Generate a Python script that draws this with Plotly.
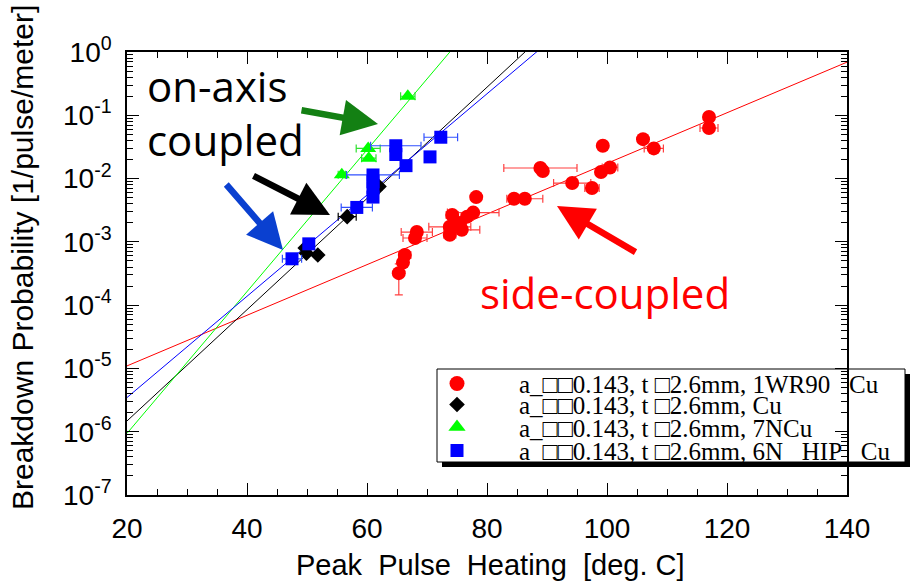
import numpy as np
import plotly.graph_objects as go

# ---------------- data ----------------
# side-coupled, 1WR90 Cu (red circles)
red_x = [117.0, 117.0, 106.0, 107.8, 99.3, 100.5, 99.0, 97.5, 94.2, 88.9, 89.3, 84.5, 86.3,
         78.2, 77.7, 76.7, 74.2, 73.8, 75.5, 75.8, 73.8, 68.3, 68.0, 66.3, 66.0, 65.3]
red_y = [0.094, 0.063, 0.042, 0.030, 0.033, 0.015, 0.0127, 0.0071, 0.0085, 0.0147, 0.0132, 0.0048, 0.0048,
         0.0051, 0.0029, 0.0025, 0.00266, 0.00173, 0.00199, 0.00155, 0.00129, 0.00143, 0.00115, 0.00062, 0.00047, 0.00032]
red_xerr = [0, 1.5, 0.8, 1.6, 0, 1.3, 0, 1.2, 3.1, 6.1, 0, 0, 3.0,
            0.8, 4.3, 1.0, 1.0, 3.5, 1.0, 3.0, 1.0, 2.6, 2.0, 1.0, 0.5, 0.5]
red_yerr_plus = [0] * 25 + [0.00013]
red_yerr_minus = [0] * 25 + [0.000175]

# on-axis, Cu (black diamonds)
black_x = [56.7, 51.8, 49.7, 49.9, 62.0]
black_y = [0.0025, 0.00062, 0.0008, 0.00066, 0.0075]
black_xerr = [1.5, 0.5, 0.5, 0.0, 0.5]

# on-axis, 7NCu (green triangles)
green_x = [66.8, 60.2, 60.3, 55.8]
green_y = [0.2, 0.030, 0.021, 0.0115]
green_xerr = [1.2, 2.0, 1.2, 0.6]

# on-axis, 6N HIP Cu (blue squares)
blue_x = [72.3, 64.8, 64.8, 70.5, 66.5, 61.0, 61.0, 61.0, 61.0, 58.3, 50.3, 47.5]
blue_y = [0.045, 0.033, 0.024, 0.022, 0.016, 0.0114, 0.0089, 0.0071, 0.0051, 0.0035, 0.00093, 0.00054]
blue_xerr = [2.8, 4.2, 0.0, 0.8, 0.0, 4.4, 0.0, 0.0, 0.5, 2.6, 0.0, 1.6]

# exponential fits: log10(P) = intercept + slope * T
fit_intercept = {"red": -5.76, "black": -7.588, "green": -8.266, "blue": -7.06}
fit_slope = {"red": 0.040, "black": 0.0879, "green": 0.112, "blue": 0.080}

NB = "\u00a0"
series_names = [
    "a_\u25a1\u25a10.143, t \u25a12.6mm, 1WR90" + NB * 3 + "Cu",
    "a_\u25a1\u25a10.143, t \u25a12.6mm, Cu",
    "a_\u25a1\u25a10.143, t \u25a12.6mm, 7NCu",
    "a_\u25a1\u25a10.143, t \u25a12.6mm, 6N" + NB * 3 + "HIP" + NB * 3 + "Cu",
]

x_ticks = [20, 40, 60, 80, 100, 120, 140]
y_tick_exps = [-7, -6, -5, -4, -3, -2, -1, 0]

# ---------------- figure ----------------
W, H = 919, 585
L, R, T, B = 127, 72, 52, 90
fig = go.Figure()

colors = {"red": "#ff0000", "black": "#000000", "green": "#00ff00", "blue": "#0000ff"}
err_colors = {"red": "#ff4040", "black": "#000000", "green": "#30e030", "blue": "#3050ff"}

fit_x = [20, 140]
for key in ["red", "black", "green", "blue"]:
    fy = [10 ** (fit_intercept[key] + fit_slope[key] * xx) for xx in fit_x]
    fig.add_trace(go.Scatter(x=fit_x, y=fy, mode="lines",
                             line=dict(color=colors[key], width=1), showlegend=False,
                             hoverinfo="skip"))

def add_points(x, y, xerr, key, symbol, size, yplus=None, yminus=None):
    ey = None
    if yplus is not None:
        ey = dict(type="data", array=yplus, arrayminus=yminus, color=err_colors[key],
                  thickness=1.2, width=4)
    fig.add_trace(go.Scatter(
        x=x, y=y, mode="markers",
        marker=dict(symbol=symbol, size=size, color=colors[key], line=dict(width=0)),
        error_x=dict(type="data", array=xerr, color=err_colors[key], thickness=1.2, width=4),
        error_y=ey, showlegend=False, cliponaxis=False))

add_points(red_x, red_y, red_xerr, "red", "circle", 14, red_yerr_plus, red_yerr_minus)
add_points(black_x, black_y, black_xerr, "black", "diamond", 12)
add_points(green_x, green_y, green_xerr, "green", "triangle-up", 14)
add_points(blue_x, blue_y, blue_xerr, "blue", "square", 13)

# ---- manual legend (paper-fraction overlay axes) ----
def px_to_paper(px, py):
    return (px - L) / (W - L - R), 1 - (py - T) / (H - T - B)

leg_rows_py = [383.5, 404.5, 427, 450.5]
leg_sym_px = 457
leg_txt_px = 517
sym_list = ["circle", "diamond", "triangle-up", "square"]
sym_sizes = [15, 12, 15, 13]
sym_keys = ["red", "black", "green", "blue"]
for i, key in enumerate(sym_keys):
    sx, sy = px_to_paper(leg_sym_px, leg_rows_py[i])
    fig.add_trace(go.Scatter(x=[sx], y=[sy], xaxis="x2", yaxis="y2", mode="markers",
                             marker=dict(symbol=sym_list[i], size=sym_sizes[i], color=colors[key]),
                             showlegend=False, hoverinfo="skip", cliponaxis=False))
    tx, ty = px_to_paper(leg_txt_px, leg_rows_py[i] + 1)
    fig.add_annotation(x=tx, y=ty, xref="paper", yref="paper", text=series_names[i],
                       showarrow=False, xanchor="left", yanchor="middle",
                       font=dict(family="Liberation Serif", size=25, color="black"))

bx0, by0 = px_to_paper(437, 369)
bx1, by1 = px_to_paper(905, 462)
sx0, sy0 = px_to_paper(442, 374)
sx1, sy1 = px_to_paper(910, 467)
fig.add_shape(type="rect", xref="paper", yref="paper", x0=sx0, y0=sy0, x1=sx1, y1=sy1,
              fillcolor="black", line=dict(width=0), layer="below")
fig.add_shape(type="rect", xref="paper", yref="paper", x0=bx0, y0=by0, x1=bx1, y1=by1,
              fillcolor="white", line=dict(color="black", width=1), layer="below")

# ---- text labels ----
ax_, ay_ = px_to_paper(145, 85)
fig.add_annotation(x=ax_, y=ay_, xref="paper", yref="paper", text="on-axis", showarrow=False,
                   xanchor="left", yanchor="middle", font=dict(family="Open Sans", size=42, color="black"))
ax_, ay_ = px_to_paper(145, 140)
fig.add_annotation(x=ax_, y=ay_, xref="paper", yref="paper", text="coupled", showarrow=False,
                   xanchor="left", yanchor="middle", font=dict(family="Open Sans", size=42, color="black"))
ax_, ay_ = px_to_paper(478, 292)
fig.add_annotation(x=ax_, y=ay_, xref="paper", yref="paper", text="side-coupled", showarrow=False,
                   xanchor="left", yanchor="middle", font=dict(family="Open Sans", size=42, color="#ff0000"))

# ---- arrows ----
arrows = [
    ((378, 124), -78, -14, "#138013"),
    ((330, 215), -78, -40, "#000000"),
    ((283, 250), -58, -67, "#0a40d0"),
    ((557, 206), 80, 47, "#ff0000"),
]
for (hx, hy), dx, dy, col in arrows:
    px_, py_ = px_to_paper(hx, hy)
    fig.add_annotation(x=px_, y=py_, xref="paper", yref="paper", text="", showarrow=True,
                       ax=dx, ay=dy, arrowhead=2, arrowsize=1.1, arrowwidth=6.5, arrowcolor=col,
                       standoff=0)

# ---- axis titles ----
tx, ty = px_to_paper(22, 258)
fig.add_annotation(x=tx, y=ty, xref="paper", yref="paper", text="Breakdown Probability [1/pulse/meter]",
                   showarrow=False, textangle=-90, xanchor="center", yanchor="middle",
                   font=dict(family="Liberation Sans", size=30, color="black"))
tx, ty = px_to_paper(490, 565)
fig.add_annotation(x=tx, y=ty, xref="paper", yref="paper",
                   text="Peak" + NB * 2 + "Pulse" + NB * 2 + "Heating" + NB * 2 + "[deg. C]",
                   showarrow=False, xanchor="center", yanchor="middle",
                   font=dict(family="Liberation Sans", size=29, color="black"))

minor_vals = [k * 10.0 ** e for e in range(-7, 0) for k in range(2, 10)]

fig.update_layout(
    width=W, height=H,
    margin=dict(l=L, r=R, t=T, b=B, pad=0),
    paper_bgcolor="white", plot_bgcolor="white",
    showlegend=False,
    xaxis=dict(range=[20, 140], tickvals=x_ticks, ticktext=[str(v) for v in x_ticks],
               ticks="inside", ticklen=12, tickwidth=1, tickcolor="black",
               minor=dict(ticks="inside", ticklen=6, dtick=5, tick0=20, tickcolor="black", showgrid=False),
               showline=True, linecolor="black", linewidth=1.5, mirror="allticks",
               showgrid=False, zeroline=False, ticklabelstandoff=8,
               tickfont=dict(family="Liberation Sans", size=28, color="black")),
    yaxis=dict(type="log", range=[-7, 0],
               tickvals=[10.0 ** e for e in y_tick_exps],
               ticktext=["10<sup>%d</sup>" % e for e in y_tick_exps],
               ticks="inside", ticklen=12, tickwidth=1, tickcolor="black",
               minor=dict(ticks="inside", ticklen=6, tickvals=minor_vals, tickcolor="black", showgrid=False),
               showline=True, linecolor="black", linewidth=1.5, mirror="allticks",
               showgrid=False, zeroline=False, ticklabelstandoff=8,
               tickfont=dict(family="Liberation Sans", size=28, color="black")),
    xaxis2=dict(range=[0, 1], overlaying="x", visible=False, anchor="y2"),
    yaxis2=dict(range=[0, 1], overlaying="y", visible=False, anchor="x2"),
)

fig.write_html("out.html")
